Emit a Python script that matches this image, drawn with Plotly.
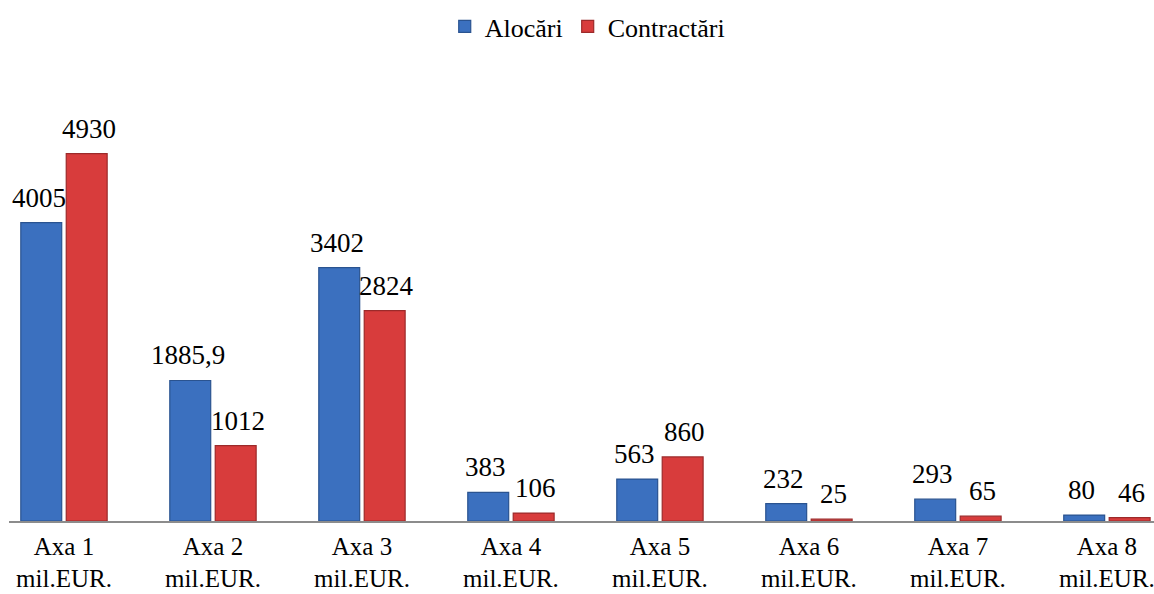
import plotly.graph_objects as go

categories = ["Axa 1", "Axa 2", "Axa 3", "Axa 4", "Axa 5", "Axa 6", "Axa 7", "Axa 8"]
unit = "mil.EUR."
alocari = [4005, 1885.9, 3402, 383, 563, 232, 293, 80]
contractari = [4930, 1012, 2824, 106, 860, 25, 65, 46]
alocari_labels = ["4005", "1885,9", "3402", "383", "563", "232", "293", "80"]
contractari_labels = ["4930", "1012", "2824", "106", "860", "25", "65", "46"]

ticktext = [f"{c}<br>{unit}" for c in categories]
FONT = "Liberation Serif"

fig = go.Figure()
fig.add_trace(go.Bar(
    x=categories, y=alocari, name="Alocări",
    marker=dict(color="#3b70bf", line=dict(color="#2a5390", width=1.2)),
))
fig.add_trace(go.Bar(
    x=categories, y=contractari, name="Contractări",
    marker=dict(color="#d83c3c", line=dict(color="#9c2a2a", width=1.2)),
))

# value labels above each bar (offset to the bar's position inside the group)
for vals, labels, shift in ((alocari, alocari_labels, -25), (contractari, contractari_labels, 25)):
    for c, v, t in zip(categories, vals, labels):
        fig.add_annotation(
            x=c, y=v, text=t, showarrow=False, xref="x", yref="y",
            xanchor="center", yanchor="bottom", xshift=shift, yshift=8,
            font=dict(size=27, family=FONT, color="black"),
        )

fig.update_layout(
    width=1154, height=594,
    margin=dict(l=9, r=0, t=80, b=73, autoexpand=False),
    paper_bgcolor="white", plot_bgcolor="white",
    barmode="group", bargap=0.39, bargroupgap=0.1,
    font=dict(family=FONT, color="black"),
    showlegend=True,
    legend=dict(orientation="h", x=0.505, xanchor="center", y=0.995, yref="container",
                yanchor="top", font=dict(size=26, family=FONT), itemwidth=30,
                traceorder="normal"),
)
fig.update_xaxes(
    type="category", range=[-0.369, 7.316], automargin=False,
    tickvals=categories, ticktext=ticktext,
    tickfont=dict(size=25, family=FONT, color="black"),
    showline=True, linecolor="#8c8c8c", linewidth=1.5,
    ticks="", showgrid=False, ticklabelstandoff=2,
)
fig.update_yaxes(
    range=[0, 5919], visible=False, showgrid=False, zeroline=False, automargin=False,
)

fig.write_html("out.html")
